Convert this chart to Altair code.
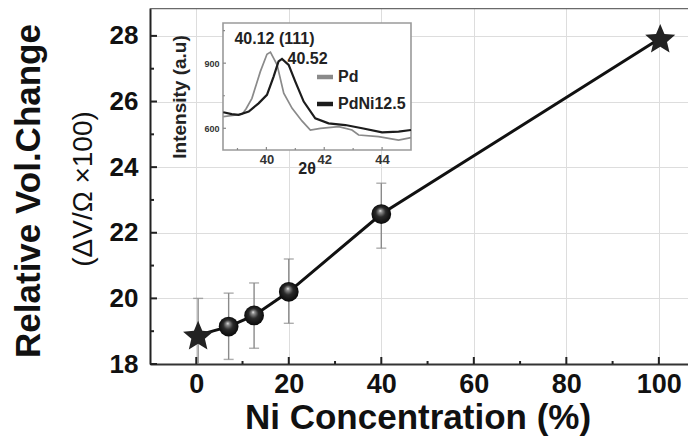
import math
import altair as alt
import pandas as pd

# ---------------- data ----------------
conc = [0.4, 7.0, 12.5, 20.0, 40.0, 100.3]
vol = [18.88, 19.14, 19.48, 20.20, 22.57, 27.93]
marker = ["star", "sphere", "sphere", "sphere", "sphere", "star"]

err_conc = [0.4, 7.0, 12.5, 20.0, 40.0]
err_low = [17.76, 18.14, 18.48, 19.24, 21.53]
err_high = [20.00, 20.16, 20.47, 21.20, 23.51]

x_major = [0, 20, 40, 60, 80, 100]
x_minor = [10, 30, 50, 70, 90]
y_major = [18, 20, 22, 24, 26, 28]
y_minor = [19, 21, 23, 25, 27]

# inset XRD curves
pd_theta = [38.51, 38.9, 39.16, 39.3, 39.5, 39.79, 40.02, 40.14, 40.37, 40.6, 40.89,
            41.23, 41.52, 41.87, 42.5, 42.96, 43.19, 43.88, 44.57, 45.0]
pd_int = [654, 660, 665, 690, 738, 861, 941, 951, 892, 762, 692,
          634, 592, 600, 608, 592, 569, 562, 546, 557]
ni_theta = [38.51, 38.8, 39.04, 39.39, 39.73, 40.02, 40.25, 40.42, 40.54, 40.77, 41.0,
            41.29, 41.69, 42.15, 42.73, 43.31, 44.0, 44.57, 45.0]
ni_int = [674, 665, 662, 677, 715, 754, 838, 908, 920, 892, 815,
          723, 646, 623, 615, 600, 581, 585, 592]

ix_major = [40, 42, 44]
ix_minor = [39, 41, 43]
iy_major = [600, 900]
iy_minor = [750, 1050]

# ---------------- layout ----------------
W, H = 538, 356
FONT = "Liberation Sans"
DARK = "#1c1c1c"
GREY = "#8a8a8a"

df_main = pd.DataFrame({"conc": conc, "vol": vol, "marker": marker})
df_err = pd.DataFrame({"conc": err_conc, "lo": err_low, "hi": err_high})
one = pd.DataFrame({"a": [0]})

xs = alt.Scale(domain=[-10, 106.3], nice=False, zero=False)
ys = alt.Scale(domain=[18, 28.85], nice=False, zero=False)
x_axis = alt.Axis(values=x_major, format="d", title="",
                  labelFontSize=27, labelFontWeight="bold", labelColor="#111",
                  labelPadding=7, ticks=False, tickSize=0, domainColor="#333",
                  domainWidth=2, labelFont=FONT)
y_axis = alt.Axis(values=y_major, format="d", title="", labelFontSize=26,
                  labelFontWeight="bold", labelColor="#111", labelPadding=12,
                  ticks=False, tickSize=0, domainColor="#222", domainWidth=2,
                  labelFont=FONT)

X = alt.X("conc:Q", scale=xs, axis=x_axis)
Y = alt.Y("vol:Q", scale=ys, axis=y_axis)

# star shape path (unit box)
pts = []
for k in range(10):
    r = 1.0 if k % 2 == 0 else 0.45
    a = math.radians(-90 + 36 * k)
    pts.append(f"{r * math.cos(a):.3f},{r * math.sin(a) + 0.095:.3f}")
star_path = "M" + "L".join(pts) + "Z"

sphere_fill = alt.RadialGradient(
    gradient="radial", x1=0.45, y1=0.33, r1=0.0, x2=0.5, y2=0.5, r2=0.55,
    stops=[alt.GradientStop(color="#f8f8f8", offset=0),
           alt.GradientStop(color="#909090", offset=0.14),
           alt.GradientStop(color="#2a2a2a", offset=0.45),
           alt.GradientStop(color="#050505", offset=1)])

errbars = alt.Chart(df_err).mark_rule(color=GREY, strokeWidth=1.4, clip=True).encode(
    x=X, y=alt.Y("lo:Q", scale=ys, axis=y_axis), y2="hi:Q")
cap_hi = alt.Chart(df_err).mark_tick(orient="horizontal", size=10, thickness=1.4,
                                      color=GREY, clip=True).encode(
    x=X, y=alt.Y("hi:Q", scale=ys, axis=y_axis))
cap_lo = alt.Chart(df_err).mark_tick(orient="horizontal", size=10, thickness=1.4,
                                      color=GREY, clip=True).encode(
    x=X, y=alt.Y("lo:Q", scale=ys, axis=y_axis))
line = alt.Chart(df_main).mark_line(color="#111", strokeWidth=3).encode(x=X, y=Y)
spheres = alt.Chart(df_main).transform_filter(alt.datum.marker == "sphere").mark_point(
    shape="circle", size=390, filled=True, fill=sphere_fill, opacity=1, strokeWidth=0
).encode(x=X, y=Y)
stars = alt.Chart(df_main).transform_filter(alt.datum.marker == "star").mark_point(
    shape=star_path, size=1000, filled=True, fill="#222", opacity=1, strokeWidth=0
).encode(x=X, y=Y)

xt_major = alt.Chart(pd.DataFrame({"conc": x_major})).mark_rule(color="#222", strokeWidth=2).encode(
    x=X, y=alt.value(H), y2=alt.value(H - 7))
xt_minor = alt.Chart(pd.DataFrame({"conc": x_minor})).mark_rule(color="#222", strokeWidth=2).encode(
    x=X, y=alt.value(H), y2=alt.value(H - 3))
yt_major = alt.Chart(pd.DataFrame({"vol": y_major})).mark_rule(color="#222", strokeWidth=2).encode(
    y=Y, x=alt.value(0), x2=alt.value(7))
yt_minor = alt.Chart(pd.DataFrame({"vol": y_minor})).mark_rule(color="#222", strokeWidth=2).encode(
    y=Y, x=alt.value(0), x2=alt.value(4))

top_frame = alt.Chart(one).mark_rule(color="#6a6a6a", strokeWidth=2.5).encode(
    x=alt.value(0), x2=alt.value(W), y=alt.value(0))

ytitle1 = alt.Chart(one).mark_text(text="Relative Vol.Change", angle=270, font=FONT,
                                   fontSize=35, fontWeight="bold", align="center",
                                   baseline="middle", color="#111").encode(
    x=alt.value(-121), y=alt.value(183))
ytitle2 = alt.Chart(one).mark_text(text="(ΔV/Ω ×100)", angle=270, font=FONT,
                                   fontSize=28, align="center", baseline="middle",
                                   color="#111").encode(
    x=alt.value(-66), y=alt.value(181))
xtitle = alt.Chart(one).mark_text(text="Ni Concentration (%)", font=FONT, fontSize=35,
                                  fontWeight="bold", align="center",
                                  baseline="alphabetic", color="#111").encode(
    x=alt.value(268), y=alt.value(421))

main = alt.layer(top_frame, errbars, cap_hi, cap_lo, line, spheres, stars,
                 xt_major, xt_minor, yt_major, yt_minor, ytitle1, ytitle2, xtitle)

# ---------------- inset ----------------
IX0, IX1, IYB, IYT = 73, 261, 142, 15
ixs = alt.Scale(domain=[38.5, 45.0], range=[IX0, IX1], nice=False, zero=False)
iys = alt.Scale(domain=[500, 1085], range=[IYB, IYT], nice=False, zero=False)
ix_axis = alt.Axis(values=ix_major, orient="bottom", offset=IYB - H, title="",
                   domain=False, ticks=False, tickSize=0, labelFontSize=13,
                   labelFontWeight="bold", labelColor="#333", labelPadding=3,
                   labelFont=FONT)
iy_axis = alt.Axis(values=iy_major, orient="left", offset=-IX0, title="",
                   domain=False, ticks=False, tickSize=0, labelFontSize=9,
                   labelFontWeight="bold", labelColor="#333", labelPadding=4,
                   labelFont=FONT)
IX = alt.X("t:Q", scale=ixs, axis=ix_axis)
IY = alt.Y("i:Q", scale=iys, axis=iy_axis)

frame = alt.Chart(one).mark_rect(fill="white", stroke="#9a9a9a", strokeWidth=1.6).encode(
    x=alt.value(IX0), x2=alt.value(IX1), y=alt.value(IYT), y2=alt.value(IYB))
pd_line = alt.Chart(pd.DataFrame({"t": pd_theta, "i": pd_int})).mark_line(
    color=GREY, strokeWidth=1.7).encode(x=IX, y=IY)
ni_line = alt.Chart(pd.DataFrame({"t": ni_theta, "i": ni_int})).mark_line(
    color=DARK, strokeWidth=2.2).encode(x=IX, y=IY)
ixt_major = alt.Chart(pd.DataFrame({"t": ix_major})).mark_rule(color="#888", strokeWidth=1.2).encode(
    x=IX, y=alt.value(IYB), y2=alt.value(IYB - 3))
ixt_minor = alt.Chart(pd.DataFrame({"t": ix_minor})).mark_rule(color="#888", strokeWidth=1.2).encode(
    x=IX, y=alt.value(IYB), y2=alt.value(IYB - 2))
iyt_major = alt.Chart(pd.DataFrame({"i": iy_major})).mark_rule(color="#888", strokeWidth=1.2).encode(
    y=IY, x=alt.value(IX0), x2=alt.value(IX0 + 3))
iyt_minor = alt.Chart(pd.DataFrame({"i": iy_minor})).mark_rule(color="#888", strokeWidth=1.2).encode(
    y=IY, x=alt.value(IX0), x2=alt.value(IX0 + 2))


def label(txt, x, y, size=16, align="center", angle=0, weight="bold"):
    return alt.Chart(one).mark_text(text=txt, font=FONT, fontSize=size, fontWeight=weight,
                                    align=align, baseline="middle", angle=angle,
                                    color="#222").encode(x=alt.value(x), y=alt.value(y))


ann1 = label("40.12 (111)", 124.5, 31)
ann2 = label("40.52", 157.5, 51)
leg_pd_dash = alt.Chart(one).mark_rule(color=GREY, strokeWidth=4.5).encode(
    x=alt.value(167), x2=alt.value(183), y=alt.value(69))
leg_ni_dash = alt.Chart(one).mark_rule(color=DARK, strokeWidth=4.5).encode(
    x=alt.value(167), x2=alt.value(183), y=alt.value(96))
leg_pd = label("Pd", 188, 69, align="left")
leg_ni = label("PdNi12.5", 188, 96, align="left")
ixtitle = label("2θ", 157, 161)
iytitle = label("Intensity (a.u)", 30, 89, size=19, angle=270)

inset = alt.layer(frame, pd_line, ni_line, ixt_major, ixt_minor, iyt_major, iyt_minor,
                  ann1, ann2, leg_pd_dash, leg_ni_dash, leg_pd, leg_ni, ixtitle, iytitle)

chart = alt.layer(main, inset).resolve_scale(x="independent", y="independent").properties(
    width=W, height=H,
    padding={"left": 142, "top": 0, "right": 0, "bottom": 73},
    autosize=alt.AutoSizeParams(type="none"),
).configure_view(strokeOpacity=0).configure_axis(grid=False).configure(font=FONT)

chart.save("out.html", embed_options={"renderer": "svg", "actions": False})
